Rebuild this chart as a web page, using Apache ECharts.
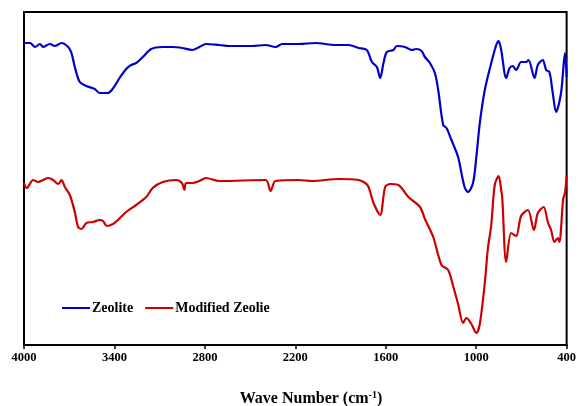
<!DOCTYPE html>
<html>
<head>
<meta charset="utf-8">
<script src="https://cdn.jsdelivr.net/npm/echarts@6/dist/echarts.min.js"></script>
<style>
html,body{margin:0;padding:0;background:#fff;}
#chart{width:579px;height:406px;}
</style>
</head>
<body>
<div id="chart"></div>
<script>
// ---- data (transmittance in arbitrary units vs wavenumber, cm-1) ----
const seriesNames = ['Zeolite', 'Modified Zeolie'];
const xTicks = [4000, 3400, 2800, 2200, 1600, 1000, 400];

const zeoliteWavenumbers = [4000,3960,3927,3894,3874,3828,3795,3751,3707,3685,3663,3630,3586,3531,3498,3445,3412,3366,3322,3289,3256,3212,3156,3082,3016,2950,2884,2837,2793,2705,2639,2487,2397,2331,2287,2177,2066,1934,1846,1780,1726,1692,1659,1637,1615,1593,1549,1527,1472,1428,1396,1362,1340,1307,1274,1252,1219,1197,1164,1120,1098,1075,1054,1021,999,976,943,900,867,851,834,801,778,757,735,702,669,653,613,591,558,536,514,492,470,437,411,400];
const zeoliteValues = [302,302,298,301,298,301,299,302,298,292,278,263,259,256,252,252,256,267,276,280,282,288,296,298,298,297,295,298,301,300,299,299,300,298,301,301,302,300,300,297,295,283,278,267,282,293,295,299,298,295,296,294,288,282,272,255,220,217,205,188,172,157,153,162,188,222,255,282,300,304,295,267,277,279,275,283,283,285,267,280,285,275,273,252,233,252,292,268];

const modifiedWavenumbers = [4000,3982,3939,3906,3873,3839,3806,3773,3751,3729,3696,3663,3641,3619,3586,3542,3498,3476,3450,3410,3377,3322,3256,3189,3146,3080,2991,2952,2936,2925,2882,2837,2793,2705,2397,2364,2331,2177,2091,1913,1780,1736,1714,1681,1637,1604,1571,1516,1450,1373,1340,1285,1230,1186,1153,1120,1087,1065,1032,999,976,943,922,900,877,851,834,827,801,768,735,702,657,617,591,553,523,503,481,459,448,423,411,400];
const modifiedValues = [162,157,165,163,165,167,165,161,165,158,150,133,118,116,122,123,125,124,119,121,125,133,140,148,157,163,165,162,155,162,162,164,167,164,165,154,164,165,164,166,165,162,158,142,130,158,161,160,148,138,126,108,80,75,59,41,22,27,21,12,21,62,97,120,160,169,155,147,83,112,109,129,135,115,132,138,122,115,103,107,103,146,152,169];

function pairs(xs, ys) { return xs.map((x, i) => [x, ys[i]]); }

const chart = echarts.init(document.getElementById('chart'), null, {renderer: 'canvas'});
const serif = '"Liberation Serif","Times New Roman",serif';
chart.setOption({
  animation: false,
  backgroundColor: '#fff',
  grid: {left: 24, right: 8, top: 12, bottom: 61, show: true, borderColor: '#000', borderWidth: 2, backgroundColor: 'transparent'},
  title: {
    text: 'Wave Number (cm{sup|-1})',
    left: 311, top: 390, textAlign: 'center', padding: 0,
    textStyle: {
      fontFamily: serif, fontWeight: 'bold', fontSize: 16, color: '#000',
      rich: {sup: {fontFamily: serif, fontWeight: 'bold', fontSize: 10, color: '#000', padding: [0, 0, 7, 0]}}
    }
  },
  legend: {
    left: 57, top: 296, itemWidth: 28, itemHeight: 14, itemGap: 12,
    icon: 'path://M0,6 L28,6 L28,8 L0,8 Z',
    textStyle: {fontFamily: serif, fontWeight: 'bold', fontSize: 14, color: '#000', padding: [0, 0, 0, -3]},
    data: seriesNames
  },
  xAxis: {
    type: 'value', inverse: true, min: 400, max: 4000,
    axisLine: {show: true, lineStyle: {color: '#000', width: 2}},
    axisTick: {show: true, customValues: xTicks, length: 4, lineStyle: {color: '#000', width: 1.5}},
    axisLabel: {customValues: xTicks, showMinLabel: true, showMaxLabel: true, margin: 6,
      formatter: v => String(v),
      fontFamily: serif, fontWeight: 'bold', fontSize: 12.5, color: '#000'},
    splitLine: {show: false}
  },
  yAxis: {
    type: 'value', min: 0, max: 333,
    axisLine: {show: true, lineStyle: {color: '#000', width: 2}},
    axisTick: {show: false}, axisLabel: {show: false}, splitLine: {show: false}
  },
  series: [
    {name: seriesNames[0], type: 'line', data: pairs(zeoliteWavenumbers, zeoliteValues),
     symbol: 'none', showSymbol: false, smooth: 0.3, color: '#0000cc', lineStyle: {width: 2.2, color: '#0000cc'}},
    {name: seriesNames[1], type: 'line', data: pairs(modifiedWavenumbers, modifiedValues),
     symbol: 'none', showSymbol: false, smooth: 0.3, color: '#cc0000', lineStyle: {width: 2.2, color: '#cc0000'}}
  ]
});
</script>
</body>
</html>
